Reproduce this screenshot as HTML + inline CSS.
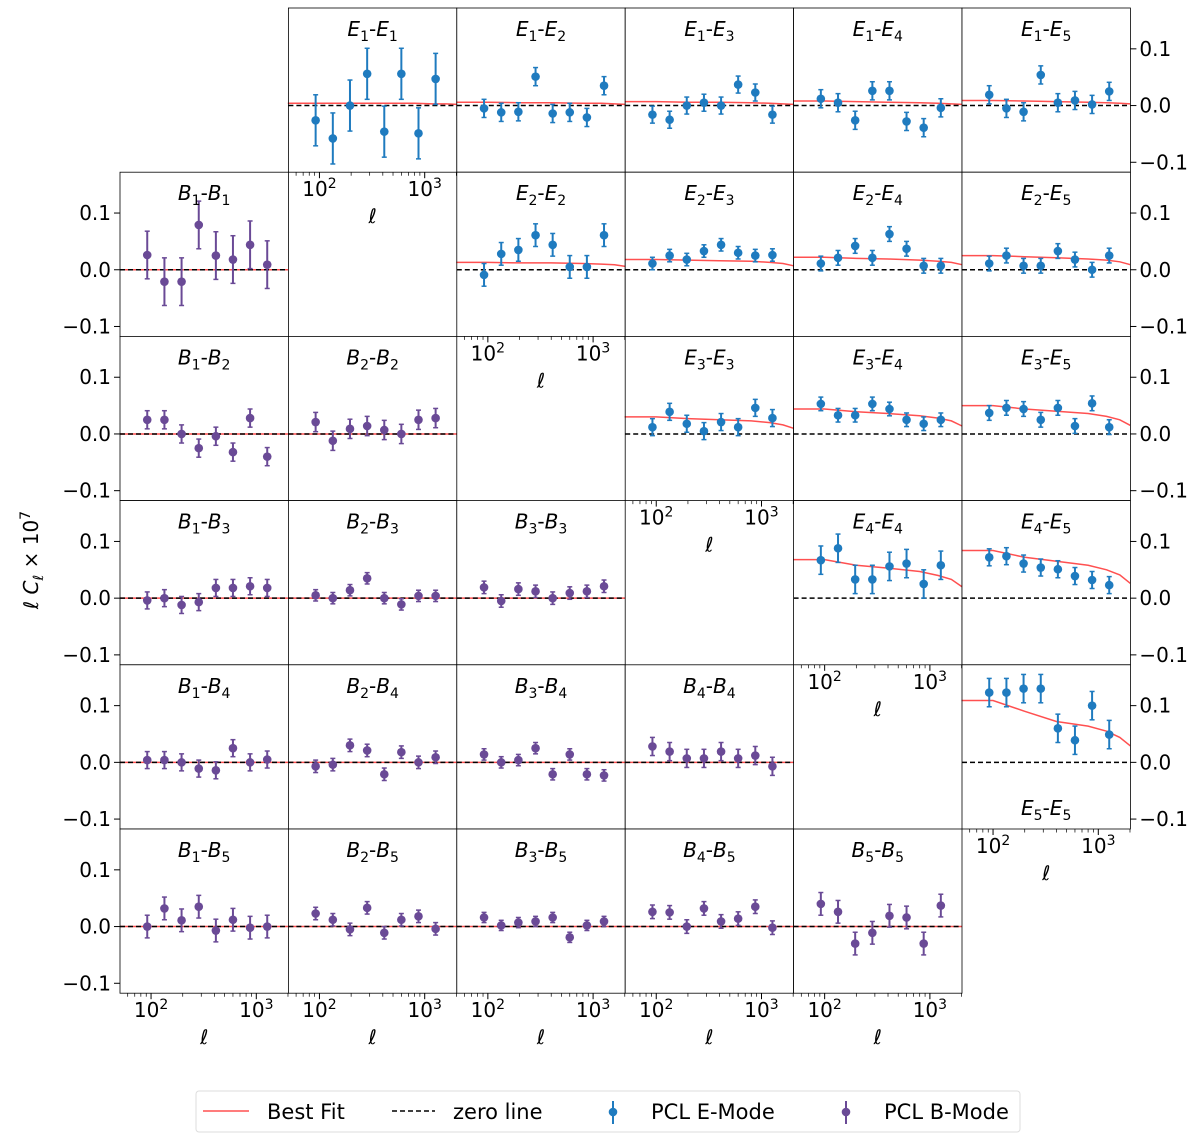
<!DOCTYPE html>
<html><head><meta charset="utf-8"><style>
body{margin:0;background:#fff;}
svg text{font-family:"DejaVu Sans","Liberation Sans",sans-serif;}
</style></head><body>
<svg id="fig" width="1200" height="1141" viewBox="0 0 1200 1141" xmlns="http://www.w3.org/2000/svg"></svg>
<script>
// ---- data ----
const ells = [92, 134, 195, 284, 413, 600, 873, 1270];
const yTicks = [0.1, 0.0, -0.1];
const yTickLabels = ["0.1", "0.0", "\u22120.1"];
const xTicks = [100, 1000];
const fitEll = [50, 100, 200, 400, 800, 1200, 1600, 2100];
// E panels: [i, j]
const ePairs = [[1,1],[1,2],[1,3],[1,4],[1,5],[2,2],[2,3],[2,4],[2,5],[3,3],[3,4],[3,5],[4,4],[4,5],[5,5]];
const eVals = [
 [-0.026,-0.058,0,0.056,-0.046,0.056,-0.049,0.047],
 [-0.005,-0.012,-0.011,0.051,-0.014,-0.012,-0.021,0.035],
 [-0.016,-0.025,0,0.005,0,0.037,0.023,-0.016],
 [0.012,0.005,-0.026,0.026,0.026,-0.028,-0.039,-0.004],
 [0.019,-0.005,-0.011,0.054,0.005,0.009,0.002,0.025],
 [-0.009,0.028,0.035,0.061,0.044,0.005,0.005,0.061],
 [0.011,0.025,0.018,0.033,0.044,0.03,0.025,0.026],
 [0.011,0.021,0.042,0.021,0.063,0.037,0.007,0.007],
 [0.011,0.025,0.007,0.007,0.033,0.018,0,0.025],
 [0.012,0.039,0.018,0.005,0.021,0.012,0.046,0.028],
 [0.053,0.033,0.033,0.053,0.044,0.025,0.018,0.025],
 [0.037,0.046,0.044,0.025,0.046,0.014,0.054,0.012],
 [0.067,0.088,0.033,0.033,0.056,0.061,0.025,0.058],
 [0.072,0.074,0.061,0.054,0.051,0.039,0.032,0.023],
 [0.123,0.123,0.13,0.13,0.06,0.039,0.1,0.049]
];
const eErr = [0.045,0.016,0.015,0.016,0.016,0.02,0.011,0.013,0.013,0.015,0.012,0.013,0.025,0.015,0.025];
const eFit = [
 [0.004,0.004,0.004,0.004,0.004,0.003,0.003,0.002],
 [0.006,0.006,0.005,0.005,0.004,0.004,0.003,0.002],
 [0.007,0.007,0.006,0.006,0.005,0.004,0.003,0.002],
 [0.008,0.008,0.007,0.006,0.005,0.004,0.003,0.002],
 [0.009,0.009,0.008,0.007,0.006,0.005,0.004,0.003],
 [0.013,0.013,0.012,0.012,0.011,0.010,0.009,0.006],
 [0.018,0.018,0.017,0.016,0.015,0.013,0.011,0.007],
 [0.022,0.022,0.020,0.019,0.017,0.015,0.013,0.009],
 [0.025,0.025,0.023,0.021,0.019,0.017,0.014,0.009],
 [0.030,0.030,0.027,0.025,0.023,0.020,0.016,0.010],
 [0.044,0.044,0.039,0.036,0.032,0.028,0.023,0.014],
 [0.050,0.050,0.044,0.040,0.036,0.031,0.025,0.015],
 [0.068,0.068,0.058,0.053,0.047,0.040,0.033,0.020],
 [0.084,0.084,0.072,0.065,0.058,0.050,0.041,0.026],
 [0.109,0.109,0.090,0.072,0.064,0.055,0.044,0.029]
];
// B panels: [i, j]
const bPairs = [[1,1],[1,2],[2,2],[1,3],[2,3],[3,3],[1,4],[2,4],[3,4],[4,4],[1,5],[2,5],[3,5],[4,5],[5,5]];
const bVals = [
 [0.026,-0.021,-0.021,0.079,0.025,0.018,0.044,0.009],
 [0.025,0.025,0,-0.025,-0.004,-0.032,0.028,-0.04],
 [0.021,-0.012,0.009,0.014,0.007,0,0.025,0.028],
 [-0.004,0,-0.012,-0.007,0.018,0.018,0.021,0.018],
 [0.005,0,0.014,0.035,0,-0.011,0.004,0.004],
 [0.019,-0.005,0.016,0.012,0,0.009,0.012,0.021],
 [0.004,0.004,0,-0.011,-0.014,0.025,0,0.005],
 [-0.007,-0.004,0.03,0.021,-0.021,0.018,0,0.009],
 [0.014,0,0.004,0.025,-0.021,0.014,-0.021,-0.023],
 [0.028,0.019,0.007,0.007,0.019,0.007,0.012,-0.007],
 [0,0.032,0.011,0.035,-0.007,0.012,-0.002,0],
 [0.023,0.012,-0.005,0.033,-0.011,0.012,0.018,-0.004],
 [0.016,0.002,0.007,0.009,0.016,-0.019,0.002,0.009],
 [0.026,0.025,0,0.032,0.009,0.014,0.035,-0.002],
 [0.04,0.026,-0.03,-0.011,0.019,0.016,-0.03,0.037]
];
const bErr = [0.042,0.016,0.017,0.015,0.01,0.011,0.015,0.011,0.01,0.016,0.02,0.011,0.009,0.012,0.02];

// ---- geometry ----
const NS = "http://www.w3.org/2000/svg";
const svg = document.getElementById('fig');
const X0 = 120, Y0 = 8, W = 168.4, H = 164.2;
const LMIN = 1.705, LMAX = 3.305, VMAX = 0.172, VMIN = -0.1175;
const BLUE = "#1f7bbf", PURP = "#6a4a96", RED = "#ff5050";
function mk(tag, attrs, parent) {
  const e = document.createElementNS(NS, tag);
  for (const k in attrs) e.setAttribute(k, attrs[k]);
  (parent || svg).appendChild(e);
  return e;
}
function xs(x0, l) { return x0 + (Math.log10(l) - LMIN) / (LMAX - LMIN) * W; }
function ys(y0, v) { return y0 + (VMAX - v) / (VMAX - VMIN) * H; }

function title(g, x, y, a, i, b, j) {
  const t = mk('text', {x: x, y: y, 'text-anchor': 'middle', 'font-size': 20, fill: '#000'}, g);
  t.innerHTML = `<tspan font-style="italic">${a}</tspan><tspan font-size="14" dy="5">${i}</tspan><tspan dy="-5">-</tspan><tspan font-style="italic">${b}</tspan><tspan font-size="14" dy="5">${j}</tspan>`;
}

function panel(row, col, kind, idx, pair) {
  const x0 = X0 + col * W, y0 = Y0 + row * H;
  const g = mk('g', {});
  
  
  mk('rect', {x: x0, y: y0, width: W, height: H, fill: '#fff'}, g);
  const fit = kind === 'E' ? eFit[idx] : null;
  if (fit) {
    let d = '';
    fitEll.forEach((l, k) => { d += (k ? 'L' : 'M') + Math.min(xs(x0, l), x0 + W).toFixed(1) + ',' + ys(y0, fit[k]).toFixed(1); });
    const p = mk('path', {d: d, fill: 'none', stroke: RED, 'stroke-width': 1.5}, g);
    
    
  } else {
    mk('line', {x1: x0, x2: x0 + W, y1: ys(y0, 0), y2: ys(y0, 0), stroke: RED, 'stroke-width': 1.5}, g);
  }
  const z = mk('line', {x1: x0, x2: x0 + W, y1: ys(y0, 0), y2: ys(y0, 0), stroke: '#000', 'stroke-width': 1.5, 'stroke-dasharray': '5,3'}, g);
  
  
  const vals = kind === 'E' ? eVals[idx] : bVals[idx];
  const err = kind === 'E' ? eErr[idx] : bErr[idx];
  const col_ = kind === 'E' ? BLUE : PURP;
  vals.forEach((v, k) => {
    const x = xs(x0, ells[k]), y = ys(y0, v), ya = ys(y0, v + err), yb = ys(y0, v - err);
    const pg = mk('g', {}, g);
    
    
    mk('line', {x1: x, x2: x, y1: ya, y2: yb, stroke: col_, 'stroke-width': 2}, pg);
    mk('line', {x1: x - 2.5, x2: x + 2.5, y1: ya, y2: ya, stroke: col_, 'stroke-width': 1.5}, pg);
    mk('line', {x1: x - 2.5, x2: x + 2.5, y1: yb, y2: yb, stroke: col_, 'stroke-width': 1.5}, pg);
    mk('circle', {cx: x, cy: y, r: 4.3, fill: col_}, pg);
  });
  mk('rect', {x: x0, y: y0, width: W, height: H, fill: 'none', stroke: '#000', 'stroke-width': 0.8}, g);
  const bottomTitle = kind === 'E' && pair[0] === 5;
  if (bottomTitle) title(g, x0 + W / 2, y0 + H - 14, kind, pair[0], kind, pair[1]);
  else title(g, x0 + W / 2, y0 + 28, kind, pair[0], kind, pair[1]);
  return {x0, y0, g};
}

function xAxis(p) {
  const {x0, y0, g} = p, yb = y0 + H;
  for (let dec = 1; dec <= 3; dec++) for (let m = 1; m <= 9; m++) {
    const l = m * Math.pow(10, dec);
    const lg = Math.log10(l);
    if (lg < LMIN || lg > LMAX) continue;
    const x = xs(x0, l), major = m === 1;
    mk('line', {x1: x, x2: x, y1: yb, y2: yb + (major ? 6 : 3.5), stroke: '#000', 'stroke-width': major ? 1 : 0.7}, g);
  }
  xTicks.forEach(l => {
    const t = mk('text', {x: xs(x0, l), y: yb + 24, 'text-anchor': 'middle', 'font-size': 20}, g);
    t.innerHTML = `10<tspan font-size="14" dy="-8">${Math.round(Math.log10(l))}</tspan>`;
    
    
  });
  const lab = mk('text', {x: x0 + W / 2, y: yb + 51, 'text-anchor': 'middle', 'font-size': 20, 'font-style': 'italic', 'font-family': '"DejaVu Serif",serif'}, g);
  lab.textContent = 'ℓ';
  
  
}
function yAxis(p, side) {
  const {x0, y0, g} = p;
  yTicks.forEach((v, k) => {
    const y = ys(y0, v);
    if (side === 'left') {
      mk('line', {x1: x0 - 6, x2: x0, y1: y, y2: y, stroke: '#000', 'stroke-width': 1}, g);
      const t = mk('text', {x: x0 - 9, y: y + 7, 'text-anchor': 'end', 'font-size': 20}, g);
      t.textContent = yTickLabels[k];
      
      
    } else {
      mk('line', {x1: x0 + W, x2: x0 + W + 6, y1: y, y2: y, stroke: '#000', 'stroke-width': 1}, g);
      const t = mk('text', {x: x0 + W + 9, y: y + 7, 'text-anchor': 'start', 'font-size': 20}, g);
      t.textContent = yTickLabels[k];
      
      
    }
  });
}

ePairs.forEach((pr, idx) => {
  const row = pr[0] - 1, col = pr[1];
  const p = panel(row, col, 'E', idx, pr);
  if (pr[0] === pr[1]) xAxis(p);
  if (col === 5) yAxis(p, 'right');
});
bPairs.forEach((pr, idx) => {
  const row = pr[1], col = pr[0] - 1;
  const p = panel(row, col, 'B', idx, pr);
  if (row === 5) xAxis(p);
  if (col === 0) yAxis(p, 'left');
});

// y axis title
const yt = mk('text', {x: 0, y: 0, 'text-anchor': 'middle', 'font-size': 20, transform: 'translate(38,560) rotate(-90)'});
yt.innerHTML = '<tspan font-style="italic">ℓ C</tspan><tspan font-size="14" dy="5" font-style="italic">ℓ</tspan><tspan dy="-5"> × 10</tspan><tspan font-size="14" dy="-8">7</tspan>';



// legend
const lg = mk('g', {});


mk('rect', {x: 196, y: 1091, width: 824, height: 41, rx: 3, fill: '#fff', stroke: '#ddd', 'stroke-width': 1}, lg);
const e1 = mk('g', {}, lg);


mk('line', {x1: 203, x2: 249, y1: 1111, y2: 1111, stroke: RED, 'stroke-width': 1.5}, e1);
mk('text', {x: 267, y: 1119, 'font-size': 21}, e1).textContent = 'Best Fit';
const e2 = mk('g', {}, lg);


mk('line', {x1: 392, x2: 435, y1: 1111, y2: 1111, stroke: '#000', 'stroke-width': 1.5, 'stroke-dasharray': '5,3'}, e2);
mk('text', {x: 453, y: 1119, 'font-size': 21}, e2).textContent = 'zero line';
const e3 = mk('g', {}, lg);


mk('line', {x1: 613, x2: 613, y1: 1101, y2: 1124, stroke: BLUE, 'stroke-width': 2}, e3);
mk('circle', {cx: 613, cy: 1112, r: 4.3, fill: BLUE}, e3);
mk('text', {x: 651, y: 1119, 'font-size': 21}, e3).textContent = 'PCL E-Mode';
const e4 = mk('g', {}, lg);


mk('line', {x1: 846, x2: 846, y1: 1101, y2: 1124, stroke: PURP, 'stroke-width': 2}, e4);
mk('circle', {cx: 846, cy: 1112, r: 4.3, fill: PURP}, e4);
mk('text', {x: 884, y: 1119, 'font-size': 21}, e4).textContent = 'PCL B-Mode';
</script>
</body></html>
